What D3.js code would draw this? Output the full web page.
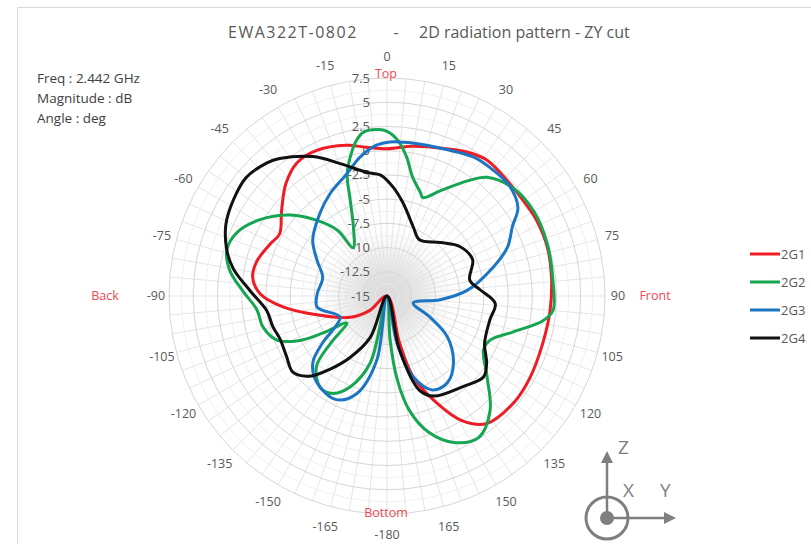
<!DOCTYPE html>
<html>
<head>
<meta charset="utf-8">
<script src="https://cdn.jsdelivr.net/npm/d3@7"></script>
<style>
  body { margin: 0; background: #fff; }
  svg text { font-family: "Open Sans", "Liberation Sans", sans-serif; }
</style>
</head>
<body>
<div id="chart"></div>
<script>
// angle in deg (0 = top, clockwise), magnitude in dB
const g1Angles = [-180, -130, -120, -105, -96, -89, -82, -75, -66, -60, -51, -42, -34, -26, -15, -8, 0, 10, 22, 29, 36, 46, 58, 63, 73, 83, 95, 107, 120, 130, 142, 149, 155, 162, 165];
const g1Values = [-15, -12.7, -10.6, -7.5, -4.2, -1.9, -1.0, -1.1, -1.8, -2.2, -1.0, 0.6, 1.6, 1.7, 1.1, 0.5, 0.2, 0.7, 1.4, 2.0, 2.4, 2.2, 2.2, 2.3, 2.3, 2.1, 1.9, 1.8, 2.0, 2.1, 1.7, 0.0, -2.8, -6.2, -10];

const g2Angles = [-180, -166, -158, -151, -144, -135, -130, -124, -120, -117, -112, -104, -96, -88, -81, -74, -67, -59, -50, -43, -37, -35, -26, -21, -18, -14, -11, -8, -3, 0, 4, 8, 12, 18, 20, 27, 35, 40, 49, 60, 72, 84, 95, 99, 106, 113, 119, 129, 138, 147, 155, 163, 169, 173, 176];
const g2Values = [-15, -7.9, -4.9, -3.5, -3.3, -4.7, -7.4, -10, -7.4, -4.9, -2.8, -1.8, -1.5, -0.1, 1.4, 2.2, 1.8, 0.3, -2.0, -4.3, -6.5, -8.9, -7.1, -4.4, -1.7, 0.2, 1.4, 2.1, 2.2, 2.0, 1.1, -0.5, -2.4, -3.8, -4.2, -2.8, -0.5, 1.0, 2.1, 2.5, 2.4, 2.2, 2.2, 1.3, -1.5, -3.4, -3.6, -1.7, 0.9, 2.4, 1.7, -0.3, -3.0, -6.3, -10.5];

const g3Angles = [-180, -171, -163, -154, -141, -132, -126, -120, -114, -99, -88, -74, -63, -53, -39, -29, -18, -11, -4, 1, 10, 22, 32, 40, 48, 56, 61, 68, 75, 86, 94, 105, 116, 124, 135, 145, 154, 162, 168];
const g3Values = [-15, -8.3, -4.5, -3.1, -3.5, -4.7, -6.8, -9, -9.7, -7.7, -7.8, -8.1, -6.9, -5.4, -4.0, -2.9, -1.7, -0.4, 0.6, 0.9, 1.0, 1.3, 1.9, 2.0, 2.0, 1.3, -0.2, -1.6, -3.7, -6.7, -9.5, -12.2, -10.1, -7.5, -5.3, -4.1, -4.2, -6.2, -10];

const g4Angles = [-180, -158, -149, -142, -136, -129, -121, -112, -105, -97, -88, -80, -74, -66, -58, -50, -42, -38, -28, -20, -9, -3, 3, 10, 21, 30, 45, 56, 67, 79, 86, 94, 103, 116, 124, 130, 140, 155, 161, 167];
const g4Values = [-15, -10.4, -7.6, -5.4, -3.5, -2.5, -2.9, -3.1, -2.8, -2.5, -0.9, 1.1, 2.2, 3.2, 3.7, 4.0, 3.5, 3.0, 1.3, -0.4, -2.1, -2.5, -3.7, -5.3, -7.4, -8.3, -7.2, -5.9, -5.4, -6.3, -5.4, -3.8, -4.1, -3.8, -2.6, -2.0, -2.8, -3.6, -4.7, -9.3];

const seriesNames = ["2G1", "2G2", "2G3", "2G4"];
const magTicks = [-15, -12.5, -10, -7.5, -5, -2.5, 0, 2.5, 5, 7.5];
const angleLabels = [0, 15, 30, 45, 60, 75, 90, 105, 120, 135, 150, 165, -180, -165, -150, -135, -120, -105, -90, -75, -60, -45, -30, -15];
const infoLines = ["Freq : 2.442 GHz", "Magnitude : dB", "Angle : deg"];

class PolarPattern
{
    constructor(_config, _series)
    {
        this.config =
        {
            parentElement: _config.parentElement,
            containerWidth: _config.containerWidth || 811,
            containerHeight: _config.containerHeight || 544,
            cx: 387,
            cy: 296,
            radius: 218,
            colors: ["#ee1c25", "#16a550", "#1b75c2", "#111111"]
        }
        this.series = _series;
        this.initVis();
    }

    initVis()
    {
        let vis = this;
        const c = vis.config;

        vis.svg = d3.select(c.parentElement).append('svg')
            .attr('width', c.containerWidth)
            .attr('height', c.containerHeight);

        vis.svg.append('rect')
            .attr('x', 17.5).attr('y', 7.5)
            .attr('width', 800).attr('height', 545)
            .attr('fill', '#fff').attr('stroke', '#d9d9d9');

        vis.r = d3.scaleLinear().domain([-15, 7.5]).range([0, c.radius]).clamp(true);

        vis.plot = vis.svg.append('g').attr('transform', `translate(${c.cx},${c.cy})`);

        // center shading from the dense spokes
        const grad = vis.svg.append('defs').append('radialGradient').attr('id', 'blob');
        grad.append('stop').attr('offset', '0%').attr('stop-color', '#cfcfcf').attr('stop-opacity', 0.9);
        grad.append('stop').attr('offset', '55%').attr('stop-color', '#e2e2e2').attr('stop-opacity', 0.6);
        grad.append('stop').attr('offset', '100%').attr('stop-color', '#ffffff').attr('stop-opacity', 0);
        vis.plot.append('circle').attr('r', 75).attr('fill', 'url(#blob)');

        vis.plot.append('g').selectAll('line')
            .data(d3.range(0, 360, 5))
            .join('line')
            .attr('x1', 0).attr('y1', 0)
            .attr('x2', d => c.radius * Math.sin(d * Math.PI / 180))
            .attr('y2', d => -c.radius * Math.cos(d * Math.PI / 180))
            .attr('stroke', '#dedede').attr('stroke-width', 0.8);

        vis.plot.append('g').selectAll('circle')
            .data(d3.range(-13.75, 7.6, 2.5))
            .join('circle')
            .attr('r', d => vis.r(d))
            .attr('fill', 'none').attr('stroke', '#ececec').attr('stroke-width', 0.8);

        vis.plot.append('g').selectAll('circle')
            .data(magTicks.slice(1))
            .join('circle')
            .attr('r', d => vis.r(d))
            .attr('fill', 'none').attr('stroke', '#d6d6d6').attr('stroke-width', 1);

        // magnitude labels
        vis.plot.append('g').selectAll('text')
            .data(magTicks)
            .join('text')
            .attr('x', -17)
            .attr('y', d => -vis.r(d))
            .attr('dy', '0.35em')
            .attr('text-anchor', 'end')
            .attr('font-size', 13)
            .attr('fill', '#595959')
            .text(d => d);

        // angle labels
        const la = d => c.radius + 13 + 8 * Math.abs(Math.cos(d * Math.PI / 180));
        vis.plot.append('g').selectAll('text')
            .data(angleLabels)
            .join('text')
            .attr('x', d => la(d) * Math.sin(d * Math.PI / 180))
            .attr('y', d => -la(d) * Math.cos(d * Math.PI / 180))
            .attr('dy', '0.35em')
            .attr('text-anchor', 'middle')
            .attr('font-size', 12.5)
            .attr('fill', '#595959')
            .text(d => d);

        const sides = [["Top", -1, -c.radius - 4], ["Bottom", -1, c.radius - 1], ["Back", -282, 0], ["Front", 268, 0]];
        vis.plot.append('g').selectAll('text')
            .data(sides)
            .join('text')
            .attr('x', d => d[1]).attr('y', d => d[2])
            .attr('dy', '0.35em')
            .attr('text-anchor', 'middle')
            .attr('font-size', 12.5)
            .attr('fill', '#ef4a55')
            .text(d => d[0]);

        // pattern curves
        const line = d3.lineRadial()
            .angle(d => d[0] * Math.PI / 180)
            .radius(d => vis.r(d[1]))
            .curve(d3.curveCatmullRomClosed.alpha(0.5));

        vis.plot.append('g').selectAll('path')
            .data(vis.series)
            .join('path')
            .attr('d', d => line(d3.zip(d.angles, d.values)))
            .attr('fill', 'none')
            .attr('stroke', (d, i) => c.colors[i])
            .attr('stroke-width', 3)
            .attr('stroke-linejoin', 'round');

        // title + info
        const title = vis.svg.append('g')
            .attr('font-size', 16)
            .attr('fill', '#595959');
        title.append('text').attr('x', 228).attr('y', 38).attr('letter-spacing', 1.5).text('EWA322T-0802');
        title.append('text').attr('x', 396).attr('y', 38).attr('text-anchor', 'middle').text('-');
        title.append('text').attr('x', 419).attr('y', 38).attr('text-anchor', 'start').text('2D radiation pattern - ZY cut');

        vis.svg.append('g').selectAll('text')
            .data(infoLines)
            .join('text')
            .attr('x', 37).attr('y', (d, i) => 83 + i * 20)
            .attr('font-size', 13.5)
            .attr('fill', '#404040')
            .text(d => d);

        // legend
        const leg = vis.svg.append('g').selectAll('g')
            .data(seriesNames)
            .join('g')
            .attr('transform', (d, i) => `translate(750,${254 + i * 28})`);
        leg.append('line')
            .attr('x1', 0).attr('x2', 30)
            .attr('stroke', (d, i) => c.colors[i]).attr('stroke-width', 3);
        leg.append('text')
            .attr('x', 31).attr('dy', '0.35em')
            .attr('font-size', 13)
            .attr('fill', '#595959')
            .text(d => d);

        vis.drawAxesIcon();
    }

    drawAxesIcon()
    {
        let vis = this;
        const g = vis.svg.append('g').attr('transform', 'translate(607,518)');
        const grey = '#7f7f7f';
        g.append('circle').attr('r', 21).attr('fill', 'none').attr('stroke', grey).attr('stroke-width', 3);
        g.append('circle').attr('r', 7).attr('fill', grey);
        g.append('line').attr('x1', 0).attr('y1', 0).attr('x2', 0).attr('y2', -58).attr('stroke', grey).attr('stroke-width', 2.5);
        g.append('path').attr('d', 'M0,-67 L-6,-55 L6,-55 Z').attr('fill', grey);
        g.append('line').attr('x1', 0).attr('y1', 0).attr('x2', 60).attr('y2', 0).attr('stroke', grey).attr('stroke-width', 2.5);
        g.append('path').attr('d', 'M69,0 L57,-6 L57,6 Z').attr('fill', grey);
        const labels = [["Z", 11, -64], ["X", 16, -21], ["Y", 53, -21]];
        g.selectAll('text.ax')
            .data(labels)
            .join('text')
            .attr('class', 'ax')
            .attr('x', d => d[1]).attr('y', d => d[2])
            .attr('font-size', 19)
            .attr('fill', grey)
            .text(d => d[0]);
    }
}

const series = [
    {name: seriesNames[0], angles: g1Angles, values: g1Values},
    {name: seriesNames[1], angles: g2Angles, values: g2Values},
    {name: seriesNames[2], angles: g3Angles, values: g3Values},
    {name: seriesNames[3], angles: g4Angles, values: g4Values}
];

new PolarPattern({parentElement: '#chart'}, series);
</script>
</body>
</html>
